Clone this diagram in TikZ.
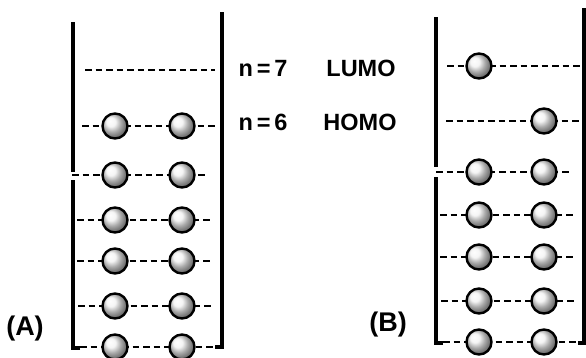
\documentclass[tikz,border=0pt]{standalone}
\usepackage{fontspec}
\setmainfont{Liberation Sans}
\usetikzlibrary{positioning}
\tikzset{
  bar/.style      = {line width=4.5pt, line cap=butt, line join=miter},
  level/.style    = {line width=2.6pt, dash pattern=on 6.5pt off 4pt},
  electron/.style = {circle, draw=black, line width=2.4pt, shade, ball color=gray!10,
                     minimum size=25pt, inner sep=0pt},
  lbl/.style      = {font=\fontsize{23.5}{26}\selectfont\bfseries, inner sep=0pt},
  panellbl/.style = {font=\fontsize{27}{30}\selectfont\bfseries, inner sep=0pt},
}

\begin{document}
\begin{tikzpicture}[x=1pt, y=-1pt]
  \useasboundingbox (0,0) rectangle (586,357);

  % panel A: walls
  \draw[bar] (73,22) -- (73,172);
  \draw[bar] (80,348) -- (73,348) -- (73,180);
  \draw[bar] (215,347) -- (222,347) -- (222,12);
  % panel A: levels
  \draw[level] (85,70) -- (215,70);
  \draw[level] (82,126) -- (218,126);
  \foreach \y/\xa/\xb in {175/72/207, 220/77/212, 261/77/212, 306/78/214, 347/80/217}
    \draw[level] (\xa,\y) -- (\xb,\y);
  % panel A: electrons
  \foreach \y [count=\i] in {347, 306, 261, 220, 175, 126} {
    \node[electron] (a\i l) at (115,\y) {};
    \node[electron] (a\i r) at (182,\y) {};
  }

  % panel B: walls
  \draw[bar] (436,17) -- (436,167);
  \draw[bar] (443,343) -- (436,343) -- (436,177);
  \draw[bar] (578,343) -- (584,343) -- (584,8);
  % panel B: levels
  \draw[level] (447,66) -- (583,66);
  \draw[level] (446,121) -- (581,121);
  \foreach \y/\xa/\xb in {172/436/572, 215/440/575, 257/440/575, 301/441/577, 342/443/578}
    \draw[level] (\xa,\y) -- (\xb,\y);
  % panel B: electrons
  \foreach \y [count=\i] in {342, 301, 257, 215, 172} {
    \node[electron] (b\i l) at (479,\y) {};
    \node[electron] (b\i r) at (544,\y) {};
  }
  \node[electron] (b6) at (544,121) {};
  \node[electron] (b7) at (479,66) {};

  % labels
  \node[lbl] (n7)   at (263,68)  {n\,=\,7};
  \node[lbl] (lumo) at (361,68)  {LUMO};
  \node[lbl] (n6)   at (263,122) {n\,=\,6};
  \node[lbl] (homo) at (360,122) {HOMO};
  \node[panellbl] (capA) at (25,329)  {(A)};
  \node[panellbl] (capB) at (388,325) {(B)};
\end{tikzpicture}
\end{document}
